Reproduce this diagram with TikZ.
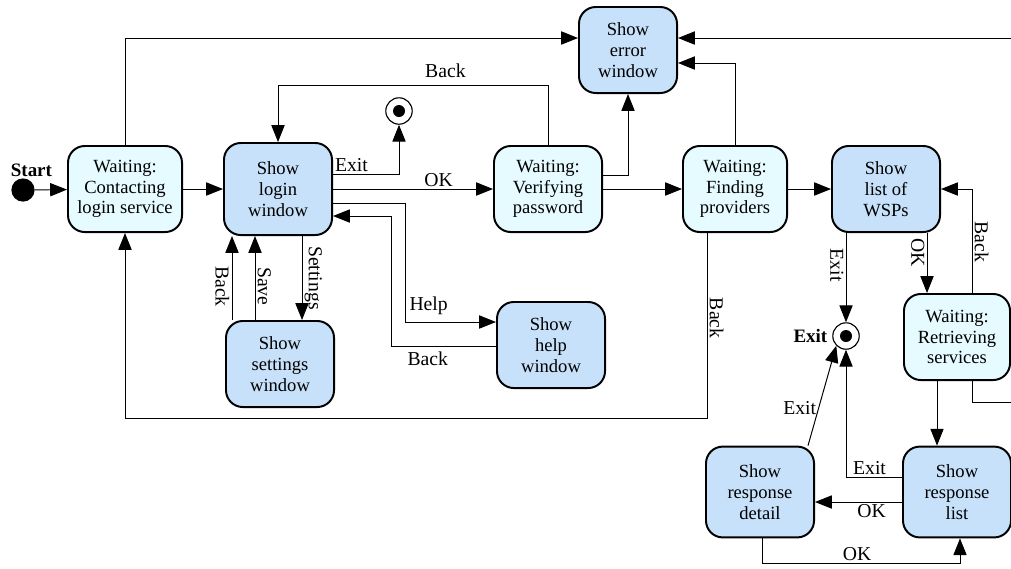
\documentclass[tikz,border=0pt]{standalone}
\usepackage{fontspec}
\setmainfont{Liberation Serif}
\usetikzlibrary{arrows.meta,calc}
\definecolor{stateblue}{HTML}{C7E1FA}
\definecolor{statecyan}{HTML}{E6FBFF}

\begin{document}
\begin{tikzpicture}[
  x=0.025cm,y=-0.025cm,
  font=\fontsize{13.2}{14.8}\selectfont,
  statebox/.style={draw,line width=1.4pt,rounded corners=0.42cm,align=center,minimum width=2.7cm,minimum height=2.15cm,inner sep=1pt},
  showbox/.style={statebox,fill=stateblue},
  waitbox/.style={statebox,fill=statecyan},
  endstate/.style={circle,draw,line width=0.8pt,minimum size=0.66cm,inner sep=0pt,path picture={\fill (path picture bounding box.center) circle (0.15cm);}},
  arr/.style={-{Triangle[length=0.42cm,width=0.33cm]},line width=0.7pt},
  lab/.style={font=\fontsize{14}{16}\selectfont,inner sep=1.5pt},
  vlab/.style={lab,rotate=-90}
]
\useasboundingbox (0,0) rectangle (1011,568);

\node[circle,fill,minimum size=0.58cm,inner sep=0pt,label={[font=\bfseries\fontsize{13.5}{15}\selectfont,inner sep=1pt,xshift=6pt]above:Start}] (start) at (23,190) {};
\node[waitbox,minimum width=2.85cm] (contact) at (125,189) {Waiting:\\Contacting\\login service};
\node[showbox,minimum height=2.3cm] (login) at (278,189) {Show\\login\\window};
\node[endstate] (quit) at (399,111) {};
\node[waitbox] (verify) at (548,189) {Waiting:\\Verifying\\password};
\node[showbox,minimum width=2.45cm] (error) at (628,50) {Show\\error\\window};
\node[waitbox,minimum width=2.6cm] (finding) at (735,189) {Waiting:\\Finding\\providers};
\node[showbox] (wsps) at (886,189) {Show\\list of\\WSPs};
\node[showbox] (settings) at (280,364) {Show\\settings\\window};
\node[showbox] (help) at (551,345) {Show\\help\\window};
\node[endstate,label={[font=\bfseries\fontsize{13.5}{15}\selectfont]left:Exit}] (exitpt) at (846,336) {};
\node[waitbox,minimum width=2.65cm] (retr) at (957,337) {Waiting:\\Retrieving\\services};
\node[showbox,minimum height=2.27cm] (detail) at (760,492) {Show\\response\\detail};
\node[showbox,minimum height=2.27cm] (resplist) at (957,492) {Show\\response\\list};

\draw[arr] (start) -- (contact);
\draw[arr] (contact) -- (login);
\draw[arr] (contact.north) |- (error.west |- 0,38);
\draw[arr] (verify.north) |- (login.north |- 0,85) node[lab,pos=0.69,above=3pt]{Back} -- (login.north);
\draw[arr] (login.east |- 0,174) -| (quit) node[lab,pos=0.14,above]{Exit};
\draw[arr] (login) -- (verify) node[lab,pos=0.66,above]{OK};
\draw[arr] (login.east |- 0,203) -- ++(72,0) |- (help.west |- 0,322) node[lab,pos=0.63,above=3pt]{Help};
\draw[arr] (help.west |- 0,346) -- ++(-105,0) node[lab,pos=0.65,below=2pt]{Back} |- (login.east |- 0,216);
\draw[arr] (login.south -| 302,0) -- (settings.north -| 302,0) node[vlab,midway,anchor=south]{Settings};
\draw[arr] (settings.north -| 255,0) -- (login.south -| 255,0) node[vlab,pos=0.4,anchor=south]{Save};
\draw[arr] (settings.north -| 232,0) -- (login.south -| 232,0) node[vlab,pos=0.4,anchor=north]{Back};
\draw[arr] (verify.east |- 0,175) -| (error.south);
\draw[arr] (verify) -- (finding);
\draw[arr] (finding.north) |- (error.east |- 0,63);
\draw[arr] (finding.south -| 707,0) |- (contact.south |- 0,418) node[vlab,pos=0.23,anchor=south]{Back} -- (contact.south);
\draw[arr] (finding) -- (wsps);
\draw[arr] (wsps.south -| exitpt) -- (exitpt) node[vlab,pos=0.36,anchor=north]{Exit};
\draw[arr] (wsps.south -| 927,0) -- (retr.north -| 927,0) node[vlab,pos=0.33,anchor=north]{OK};
\draw[arr] (retr.north -| 972,0) |- (wsps.east) node[vlab,pos=0.245,anchor=south]{Back};
\draw[arr] (retr.south -| 937,0) -- (resplist.north -| 937,0);
\draw[arr] (retr.south -| 972,0) |- (1030,402) |- (error.east |- 0,38);
\draw[arr] (resplist.west |- 0,477) -| (exitpt) node[lab,pos=0.29,above]{Exit};
\draw[arr] (detail.north -| 808,0) -- (exitpt.225) node[lab,pos=0.38,left]{Exit};
\draw[arr] (resplist.west |- 0,502) -- (detail.east |- 0,502) node[lab,pos=0.35,below]{OK};
\draw[arr] (detail.south -| 762,0) -- ++(0,25) -| (resplist.south -| 960,0) node[lab,pos=0.24,above]{OK};
\end{tikzpicture}
\end{document}
